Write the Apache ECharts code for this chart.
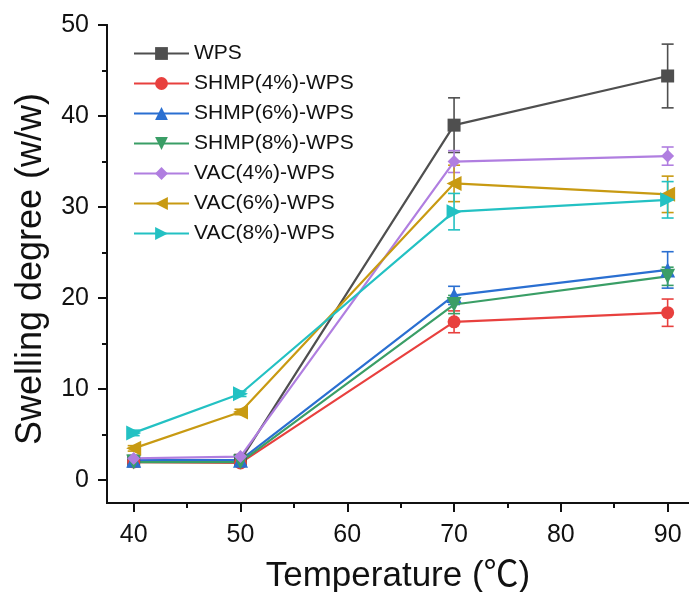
<!DOCTYPE html>
<html>
<head>
<meta charset="utf-8">
<script src="https://cdn.jsdelivr.net/npm/echarts@6/dist/echarts.min.js"></script>
<style>
  html, body { margin: 0; padding: 0; background: #fff; }
  #chart { width: 689px; height: 592px; }
</style>
</head>
<body>
<div id="chart"></div>
<script>
// temperatures (℃)
var temps = [40, 50, 70, 90];
var names = ['WPS', 'SHMP(4%)-WPS', 'SHMP(6%)-WPS', 'SHMP(8%)-WPS', 'VAC(4%)-WPS', 'VAC(6%)-WPS', 'VAC(8%)-WPS'];
var colors = ['#4f4f4f', '#e8403e', '#2a6fd1', '#3a9e66', '#b07ee0', '#c89a12', '#23c1c3'];

// swelling degree (w/w)
var wps = [2.1, 2.2, 39.0, 44.4];
var shmp4 = [2.0, 1.9, 17.4, 18.4];
var shmp6 = [2.2, 2.2, 20.3, 23.1];
var shmp8 = [2.0, 2.0, 19.3, 22.4];
var vac4 = [2.4, 2.6, 35.0, 35.6];
var vac6 = [3.5, 7.5, 32.6, 31.4];
var vac8 = [5.2, 9.5, 29.5, 30.8];

// standard deviations
var wpsErr = [0.2, 0.2, 3.0, 3.5];
var shmp4Err = [0.2, 0.2, 1.2, 1.5];
var shmp6Err = [0.2, 0.2, 1.0, 2.0];
var shmp8Err = [0.2, 0.2, 1.0, 1.0];
var vac4Err = [0.2, 0.2, 1.2, 1.0];
var vac6Err = [0.3, 0.3, 2.0, 2.0];
var vac8Err = [0.3, 0.3, 2.0, 2.0];

var majorX = [40, 50, 60, 70, 80, 90];
var minorX = [45, 55, 65, 75, 85];
var majorY = [0, 10, 20, 30, 40, 50];
var minorY = [5, 15, 25, 35, 45];

var values = [wps, shmp4, shmp6, shmp8, vac4, vac6, vac8];
var errs = [wpsErr, shmp4Err, shmp6Err, shmp8Err, vac4Err, vac6Err, vac8Err];
var symbols = ['rect', 'circle', 'triangle', 'triangle', 'diamond', 'triangle', 'triangle'];
var rotates = [0, 0, 0, 180, 0, 90, -90];

var myChart = echarts.init(document.getElementById('chart'));

var axisLine = { show: true, onZero: false, lineStyle: { color: '#111', width: 2 } };
var font = 'Liberation Sans, Arial, Noto Sans CJK SC, sans-serif';

var series = [];
names.forEach(function (name, i) {
  series.push({
    name: name,
    type: 'line',
    data: temps.map(function (t, k) { return [t, values[i][k]]; }),
    symbol: symbols[i],
    symbolSize: symbols[i] === 'triangle' ? 15 : 13,
    symbolRotate: rotates[i],
    itemStyle: { color: colors[i] },
    lineStyle: { color: colors[i], width: 2.2 },
    z: 3
  });
  series.push({
    type: 'custom',
    data: temps.map(function (t, k) { return [t, values[i][k] - errs[i][k], values[i][k] + errs[i][k]]; }),
    renderItem: function (params, api) {
      var lo = api.coord([api.value(0), api.value(1)]);
      var hi = api.coord([api.value(0), api.value(2)]);
      var w = 6;
      var st = { stroke: colors[i], lineWidth: 1.6 };
      return {
        type: 'group',
        children: [
          { type: 'line', shape: { x1: lo[0], y1: lo[1], x2: hi[0], y2: hi[1] }, style: st },
          { type: 'line', shape: { x1: lo[0] - w, y1: lo[1], x2: lo[0] + w, y2: lo[1] }, style: st },
          { type: 'line', shape: { x1: hi[0] - w, y1: hi[1], x2: hi[0] + w, y2: hi[1] }, style: st }
        ]
      };
    },
    z: 2,
    silent: true
  });
});

myChart.setOption({
  animation: false,
  textStyle: { fontFamily: font },
  grid: { left: 107, right: 0, top: 25, bottom: 89, containLabel: false, outerBoundsMode: 'none' },
  legend: {
    data: names,
    orient: 'vertical',
    left: 128,
    top: 38,
    itemWidth: 55,
    itemHeight: 16,
    itemGap: 9,
    textStyle: { fontSize: 21, color: '#111', fontFamily: font }
  },
  xAxis: [{
    type: 'value',
    min: 37.5,
    max: 92,
    name: 'Temperature (℃)',
    nameLocation: 'middle',
    nameGap: 56,
    nameTextStyle: { fontSize: 35, color: '#111', fontFamily: font },
    axisLine: axisLine,
    axisTick: { show: true, length: 9, lineStyle: { color: '#111', width: 2 }, customValues: majorX },
    axisLabel: { fontSize: 25, color: '#111', margin: 20, customValues: majorX },
    splitLine: { show: false }
  }, {
    type: 'value',
    position: 'bottom',
    min: 37.5,
    max: 92,
    axisLine: axisLine,
    axisTick: { show: true, length: 5, lineStyle: { color: '#111', width: 2 }, customValues: minorX },
    axisLabel: { show: false },
    splitLine: { show: false }
  }],
  yAxis: [{
    type: 'value',
    min: -2.5,
    max: 50,
    name: 'Swelling degree (w/w)',
    nameLocation: 'middle',
    nameGap: 58,
    nameTextStyle: { fontSize: 36, color: '#111', fontFamily: font, padding: [0, 10, 0, 0] },
    axisLine: axisLine,
    axisTick: { show: true, length: 9, lineStyle: { color: '#111', width: 2 }, customValues: majorY },
    axisLabel: { fontSize: 25, color: '#111', margin: 18, customValues: majorY },
    splitLine: { show: false }
  }, {
    type: 'value',
    position: 'left',
    min: -2.5,
    max: 50,
    axisLine: axisLine,
    axisTick: { show: true, length: 5, lineStyle: { color: '#111', width: 2 }, customValues: minorY },
    axisLabel: { show: false },
    splitLine: { show: false }
  }],
  series: series
});
</script>
</body>
</html>
